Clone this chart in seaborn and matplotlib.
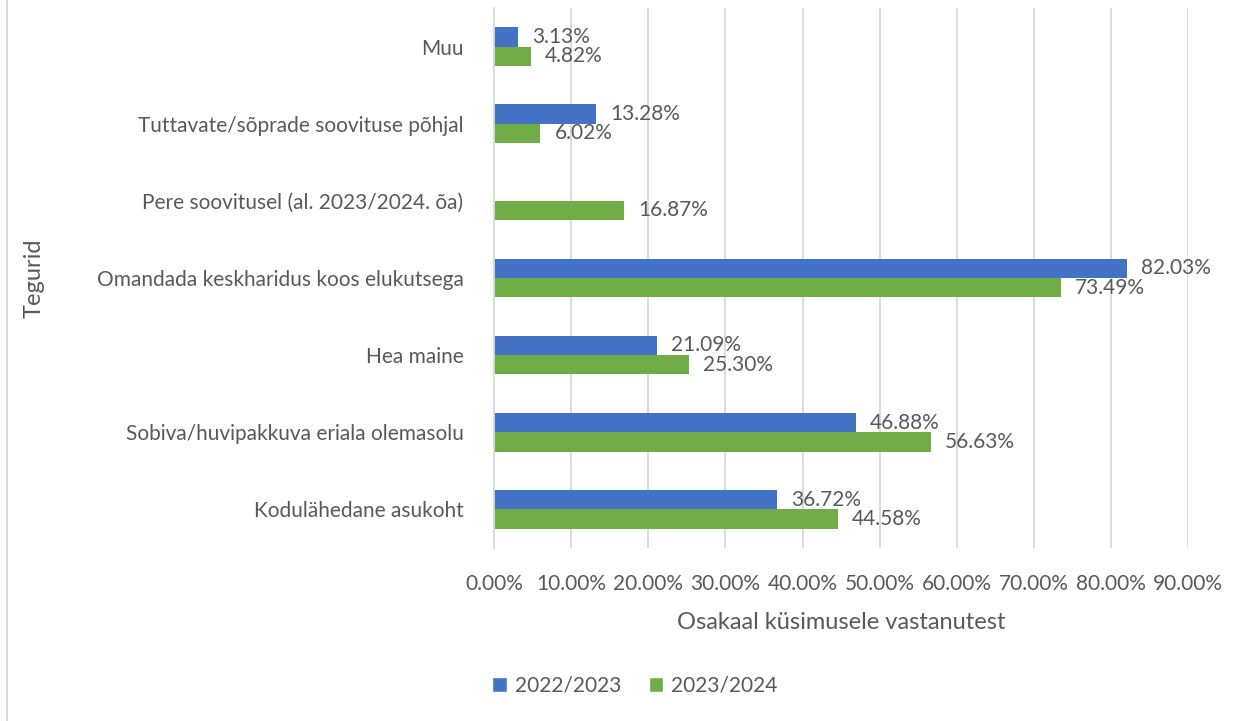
"""
Horizontal grouped bar chart: reasons for choosing the school, 2022/2023 vs 2023/2024.
"""

import numpy as np
import pandas as pd
import seaborn as sns
from matplotlib import pyplot as plt
from matplotlib.patches import Patch

# data
categories = [
    "Muu",
    "Tuttavate/sõprade soovituse põhjal",
    "Pere soovitusel (al. 2023/2024. õa)",
    "Omandada keskharidus koos elukutsega",
    "Hea maine",
    "Sobiva/huvipakkuva eriala olemasolu",
    "Kodulähedane asukoht",
]
years = ["2022/2023", "2023/2024"]
share_2022 = [3.13, 13.28, np.nan, 82.03, 21.09, 46.88, 36.72]
share_2023 = [4.82, 6.02, 16.87, 73.49, 25.30, 56.63, 44.58]
x_ticks = [0, 10, 20, 30, 40, 50, 60, 70, 80, 90]

colors = {"2022/2023": "#4472C4", "2023/2024": "#70AD47"}
text_color = "#595959"

df = pd.DataFrame(
    {
        "Tegur": categories * 2,
        "Aasta": [years[0]] * len(categories) + [years[1]] * len(categories),
        "Osakaal": share_2022 + share_2023,
    }
)

sns.set_style("white")
plt.rcParams["font.family"] = ["Lato", "DejaVu Sans"]

fig = plt.figure(figsize=(12.53, 7.21), dpi=100)
ax = fig.add_axes([0.3943, 0.240, 0.5540, 0.749])

sns.barplot(
    data=df,
    y="Tegur",
    x="Osakaal",
    hue="Aasta",
    order=categories,
    hue_order=years,
    palette=colors,
    saturation=1,
    linewidth=0,
    orient="h",
    width=0.5,
    gap=0,
    errorbar=None,
    legend=False,
    ax=ax,
)

# value labels next to each bar
for container in ax.containers:
    labels = ["" if np.isnan(v) else f"{v:.2f}%" for v in container.datavalues]
    ax.bar_label(container, labels=labels, padding=10, fontsize=15, color=text_color)

ax.set_xlim(0, 90)
ax.set_ylim(len(categories) - 0.5, -0.5)
ax.set_xticks(x_ticks)
ax.set_xticklabels([f"{t:.2f}%" for t in x_ticks])
ax.grid(axis="x", color="#D9D9D9", linewidth=1.3)
ax.set_axisbelow(True)
for side in ["top", "right", "bottom"]:
    ax.spines[side].set_visible(False)
ax.spines["left"].set_color("#D9D9D9")
ax.spines["left"].set_linewidth(1.3)
ax.tick_params(axis="both", length=0, labelsize=15, colors=text_color)
ax.tick_params(axis="y", pad=22)
ax.tick_params(axis="x", pad=19)

ax.set_xlabel("Osakaal küsimusele vastanutest", fontsize=17, color=text_color, labelpad=13)
ax.set_ylabel("Tegurid", fontsize=17, color=text_color)
ax.yaxis.set_label_coords(-0.647, 0.5)

handles = [Patch(facecolor=colors[y], label=y) for y in years]
fig.legend(
    handles=handles,
    loc="center",
    bbox_to_anchor=(635 / 1253, 1 - 686 / 721),
    ncol=2,
    frameon=False,
    fontsize=15,
    handlelength=0.7,
    handleheight=0.7,
    handletextpad=0.4,
    columnspacing=1.3,
    labelcolor=text_color,
)

# light frame line on the left edge, as in the source image
fig.add_artist(plt.Line2D([7 / 1253, 7 / 1253], [0, 1], color="#D9D9D9", linewidth=1.5))

plt.savefig("out.png", dpi=100)
